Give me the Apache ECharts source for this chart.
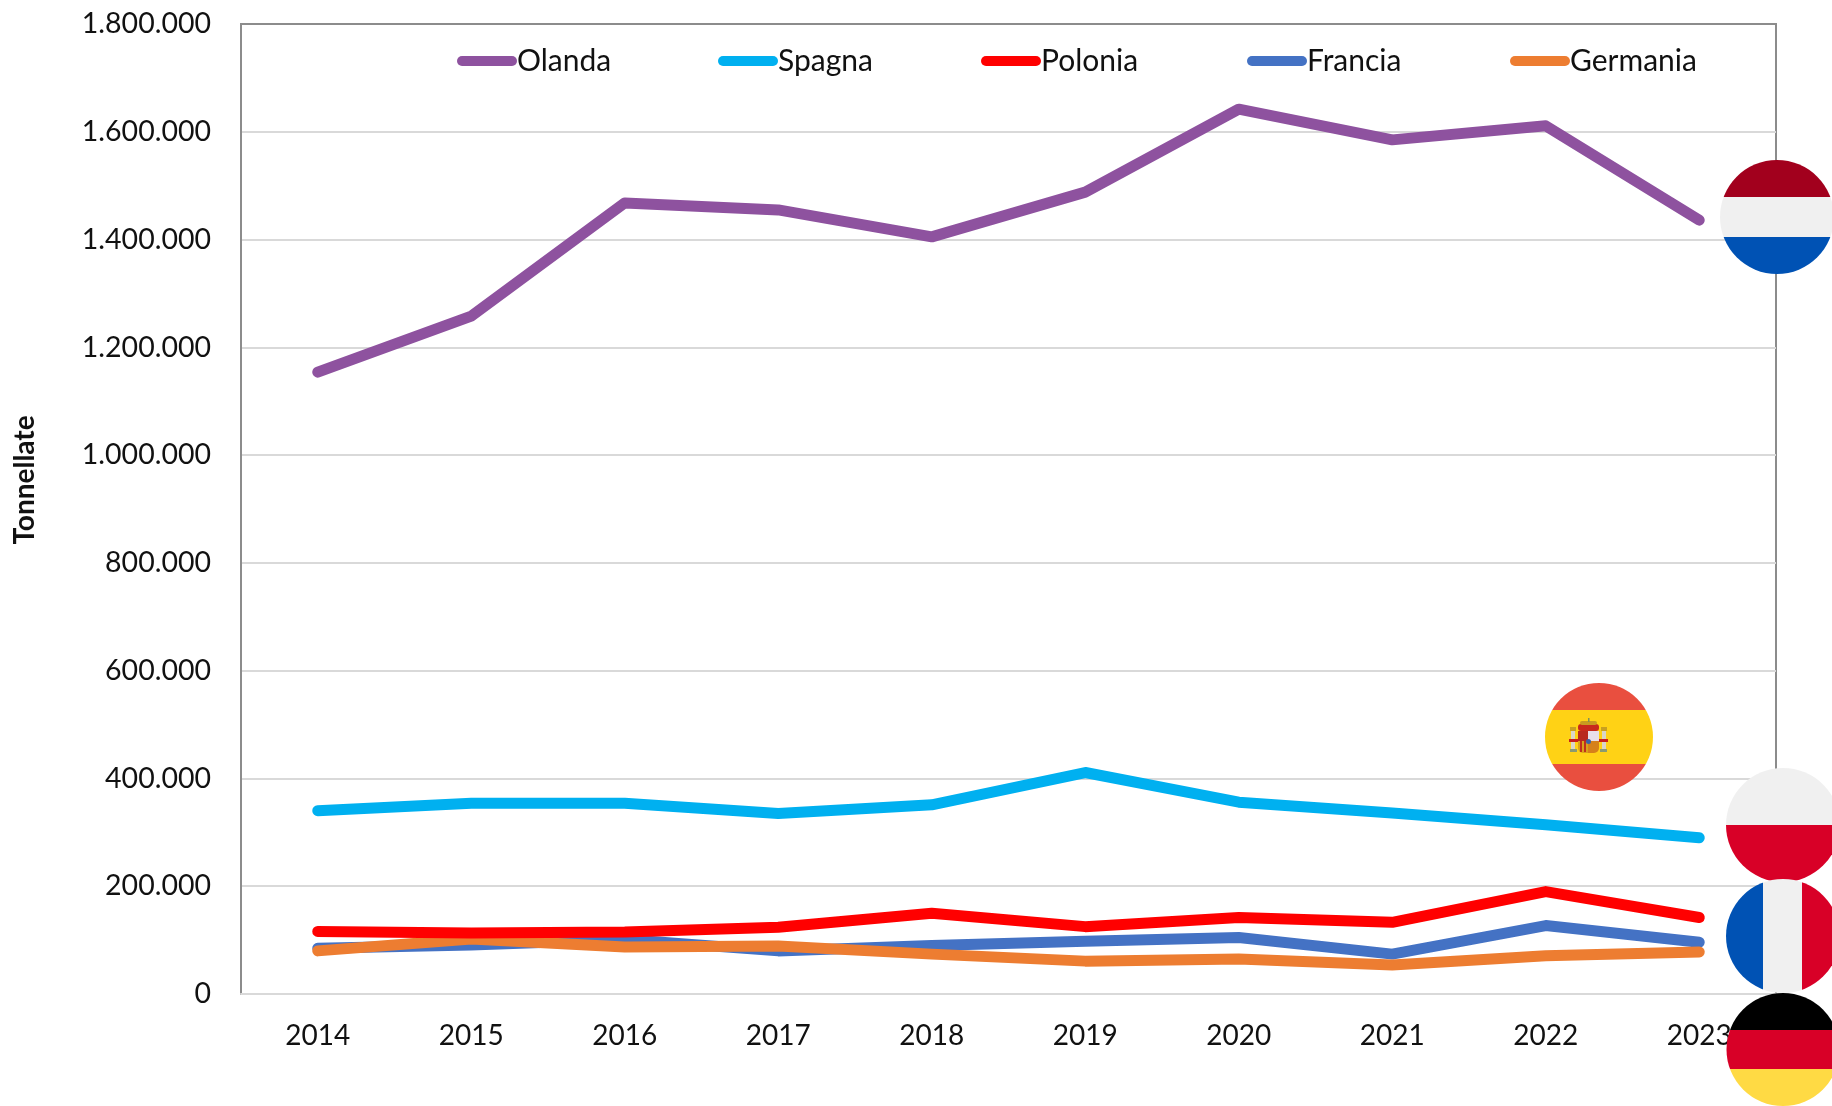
<!DOCTYPE html>
<html>
<head>
<meta charset="utf-8">
<style>html,body{margin:0;padding:0;background:#fff}#c{width:1832px;height:1106px}</style>
<script src="https://cdn.jsdelivr.net/npm/echarts@6/dist/echarts.min.js"></script>
</head>
<body>
<div id="c"></div>
<script>
const years = ['2014','2015','2016','2017','2018','2019','2020','2021','2022','2023'];
const olanda = [1154000,1258000,1468000,1455000,1405000,1488000,1642000,1585000,1611000,1436000];
const spagna = [340000,354000,354000,335000,351000,411000,356000,336000,314000,290000];
const polonia = [116000,113000,115000,124000,150000,125000,142000,133000,190000,142000];
const francia = [85000,91000,101000,80000,90000,98000,105000,74000,127000,96000];
const germania = [80000,102000,87000,89000,74000,61000,65000,54000,71000,78000];

const FONT = 'Lato, Carlito, sans-serif';
const TXT = '#111111';
const pill = 'path://M5 0H55A5 5 0 0 1 55 10H5A5 5 0 0 1 5 0Z';

const drawOrder = [
  ['Francia', francia, '#4472c4'],
  ['Germania', germania, '#ed7d31'],
  ['Polonia', polonia, '#ff0000'],
  ['Spagna', spagna, '#00b0f0'],
  ['Olanda', olanda, '#8e529f']
];
const legendOrder = [['Olanda',457],['Spagna',718],['Polonia',981],['Francia',1247],['Germania',1510]];

function stripes(horizontal, cols, cuts) {
  const stops = [];
  cols.forEach((c, i) => {
    stops.push({offset: i ? cuts[i-1] : 0, color: c});
    stops.push({offset: i < cuts.length ? cuts[i] : 1, color: c});
  });
  return {type:'linear', x:0, y:0, x2: horizontal ? 1 : 0, y2: horizontal ? 0 : 1, colorStops: stops};
}
function flag(cx, cy, r, fill, z) {
  return {type:'circle', z, shape:{cx, cy, r}, style:{fill}, silent:true};
}
function box(x, y, width, height, fill, z, r) {
  return {type:'rect', z, shape:{x, y, width, height, r: r||0}, style:{fill}, silent:true};
}
function crest() {
  const z = 106, cx = 1588;
  return [
    box(cx-17,731,4,18,'#d9d6c8',z), box(cx+14,731,4,18,'#d9d6c8',z),
    box(cx-18,727,6,4,'#c8a020',z), box(cx+13,727,6,4,'#c8a020',z),
    box(cx-18,749,7,3,'#8a9a70',z), box(cx+12,749,7,3,'#8a9a70',z),
    box(cx-19,739,9,3,'#c8201c',z), box(cx+11,739,9,3,'#c8201c',z),
    box(cx-10,731,10,10,'#b8281e',z), box(cx,731,11,10,'#e8dfe8',z),
    box(cx-10,741,10,12,'#d9a21a',z,[0,0,0,5]), box(cx,741,11,12,'#d6801a',z,[0,0,5,0]),
    box(cx-8,741,2,11,'#c0301c',z), box(cx-4,741,2,11,'#c0301c',z),
    box(cx-10,724,21,7,'#c8281c',z,3),
    box(cx-8,721,17,4,'#c89a20',z,2),
    box(cx,718,1.5,4,'#80905a',z),
    box(cx-2,739,5,5,'#3a62a8',z,2.5)
  ];
}
const graphics = [
  flag(1777,217,57,stripes(false,['#a2001d','#f0f0f0','#0052b4'],[0.325,0.675]),101),
  flag(1599,737,54,stripes(false,['#e94f3f','#ffd215','#e94f3f'],[0.25,0.75]),102),
  flag(1783,825,57,stripes(false,['#f0f0f0','#d80027'],[0.5]),103),
  flag(1783,936,57,stripes(true,['#0052b4','#f0f0f0','#d80027'],[0.325,0.667]),104),
  flag(1783,1049.5,56.5,stripes(false,['#000000','#d80027','#ffda44'],[0.325,0.675]),105)
].concat(crest());

const gridColors = ['#d9d9d9','#d9d9d9','#d9d9d9','#d9d9d9','#d9d9d9','#d9d9d9','#d9d9d9','#d9d9d9','#d9d9d9','#8c8c8c'];

const chart = echarts.init(document.getElementById('c'), null, {renderer:'canvas'});
chart.setOption({
  animation:false,
  backgroundColor:'#fff',
  textStyle:{fontFamily:FONT},
  grid:{left:241, right:56, top:24, bottom:112, show:true, borderColor:'#8c8c8c', borderWidth:2, backgroundColor:'transparent'},
  legend: legendOrder.map(([name,left]) => ({
    data:[name], left, top:46, itemWidth:60, itemHeight:11, icon:pill, padding:0,
    selectedMode:false,
    textStyle:{fontFamily:FONT, fontSize:30, color:TXT, padding:[0,0,0,-5]}
  })),
  xAxis:{
    type:'category', data:years, boundaryGap:true,
    axisTick:{show:false},
    axisLine:{show:true, lineStyle:{color:'#d9d9d9', width:2}},
    axisLabel:{fontFamily:FONT, fontSize:28, color:TXT, margin:28, interval:0},
    splitLine:{show:false}
  },
  yAxis:{
    type:'value', min:0, max:1800000, interval:200000,
    name:'Tonnellate', nameLocation:'middle', nameGap:202, nameRotate:90,
    nameTextStyle:{fontFamily:FONT, fontSize:28, fontWeight:'bold', color:TXT, padding:[0,0,0,58]},
    axisTick:{show:false},
    axisLine:{show:true, lineStyle:{color:'#8c8c8c', width:2}},
    axisLabel:{fontFamily:FONT, fontSize:28.5, color:TXT, margin:30,
      formatter:v => String(v).replace(/\B(?=(\d{3})+$)/g,'.')},
    splitLine:{show:true, lineStyle:{color:gridColors, width:2}}
  },
  series: drawOrder.map(([name,data,color]) => ({
    name, type:'line', data, symbol:'none', smooth:false, clip:false,
    color, itemStyle:{color},
    lineStyle:{color, width:11, cap:'round', join:'round'}
  })),
  graphic:{elements:graphics}
});
</script>
</body>
</html>
